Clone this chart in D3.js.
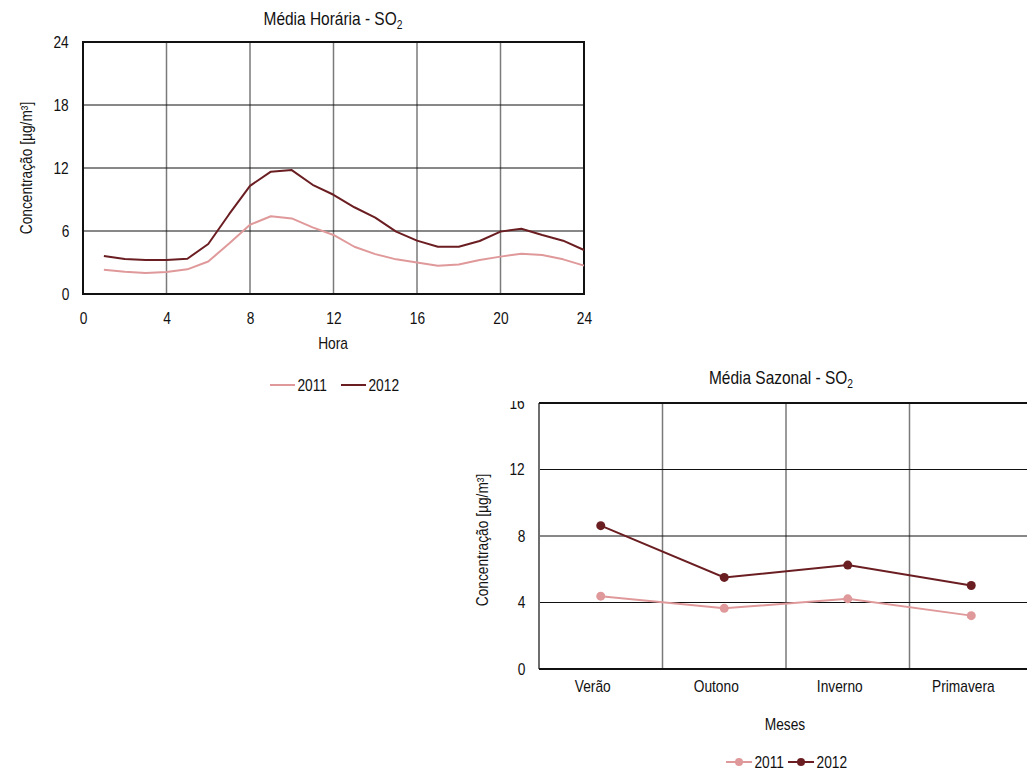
<!DOCTYPE html>
<html>
<head>
<meta charset="utf-8">
<script src="https://cdn.jsdelivr.net/npm/d3@7"></script>
<style>
  html, body { margin: 0; padding: 0; background: #fff; }
  svg { display: block; }
  text { font-family: "Liberation Sans", Arial, sans-serif; fill: #111;
         transform-box: fill-box; transform-origin: center; transform: scaleX(0.86); }
</style>
</head>
<body>
<svg id="chart" width="1027" height="771"></svg>
<script>
// ---- Data ----
const hours = [1,2,3,4,5,6,7,8,9,10,11,12,13,14,15,16,17,18,19,20,21,22,23,24];
const hourly2011 = [2.32,2.13,2.0,2.1,2.35,3.1,4.8,6.6,7.4,7.2,6.35,5.62,4.5,3.8,3.3,3.0,2.7,2.8,3.24,3.56,3.84,3.71,3.3,2.7];
const hourly2012 = [3.62,3.33,3.24,3.24,3.36,4.76,7.6,10.3,11.65,11.8,10.4,9.45,8.26,7.27,5.94,5.08,4.5,4.5,5.05,5.94,6.22,5.62,5.08,4.19];
const hourTicks = [0,4,8,12,16,20,24];
const hourYTicks = [0,6,12,18,24];

const seasons = ["Verão","Outono","Inverno","Primavera"];
const seasonal2011 = [4.38,3.65,4.22,3.21];
const seasonal2012 = [8.62,5.51,6.25,5.02];
const seasonYTicks = [0,4,8,12,16];

const years = ["2011","2012"];
const colors = {"2011":"#e0999a","2012":"#6b1e22"};

const svg = d3.select("#chart");
const font = 16;

function titleWithSub(g, x, y, main, sub) {
  const t = g.append("text").attr("x", x).attr("y", y).attr("text-anchor","middle")
    .style("font-size","18px");
  t.append("tspan").text(main);
  t.append("tspan").attr("dy", 4).style("font-size","12px").text(sub);
}
function yTitle(g, x, y, label) {
  g.append("g").attr("transform", `translate(${x},${y}) rotate(-90)`)
    .append("text").attr("text-anchor","middle").style("font-size", font+"px").text(label);
}

// ================= Chart 1: Média Horária =================
{
  const g = svg.append("g");
  const x = d3.scaleLinear().domain([0,24]).range([83,584]);
  const y = d3.scaleLinear().domain([0,24]).range([294,42]);

  g.append("g").selectAll("line").data(hourTicks.filter(d => d>0 && d<24)).join("line")
    .attr("x1", d=>x(d)).attr("x2", d=>x(d)).attr("y1", y(24)).attr("y2", y(0))
    .attr("stroke","#7a7a7a").attr("stroke-width",1.5);
  g.append("g").selectAll("line").data(hourYTicks.filter(d => d>0 && d<24)).join("line")
    .attr("x1", x(0)).attr("x2", x(24)).attr("y1", d=>y(d)).attr("y2", d=>y(d))
    .attr("stroke","#111").attr("stroke-width",1);

  g.append("rect").attr("x", x(0)).attr("y", y(24)).attr("width", x(24)-x(0)).attr("height", y(0)-y(24))
    .attr("fill","none").attr("stroke","#111").attr("stroke-width",2);

  const xa = g.append("g").attr("transform",`translate(0,${y(0)})`)
    .call(d3.axisBottom(x).tickValues(hourTicks).tickSize(0).tickPadding(19));
  xa.select(".domain").remove();
  xa.selectAll("text").style("font-size", font+"px").attr("fill","#111");
  const ya = g.append("g").attr("transform",`translate(${x(0)},0)`)
    .call(d3.axisLeft(y).tickValues(hourYTicks).tickSize(0).tickPadding(13));
  ya.select(".domain").remove();
  ya.selectAll("text").style("font-size", font+"px").attr("fill","#111");

  const line = d3.line().x((d,i)=>x(hours[i])).y(d=>y(d));
  [[hourly2011,"2011"],[hourly2012,"2012"]].forEach(([vals,yr]) => {
    g.append("path").datum(vals).attr("d", line).attr("fill","none")
      .attr("stroke", colors[yr]).attr("stroke-width",2).attr("stroke-linejoin","round");
  });

  titleWithSub(g, 333, 25, "Média Horária - SO", "2");
  g.append("text").attr("x", 333).attr("y", 349).attr("text-anchor","middle")
    .style("font-size", font+"px").text("Hora");
  yTitle(g, 32, 168, "Concentração [µg/m³]");

  const lx = [270, 341];
  years.forEach((yr,i) => {
    g.append("line").attr("x1", lx[i]).attr("x2", lx[i]+25).attr("y1",385).attr("y2",385)
      .attr("stroke", colors[yr]).attr("stroke-width",2);
    g.append("text").attr("x", lx[i]+25).attr("y", 391).style("font-size", font+"px").text(yr);
  });
}

// ================= Chart 2: Média Sazonal =================
{
  const g = svg.append("g");
  const x = d3.scaleBand().domain(seasons).range([539,1033]);
  const y = d3.scaleLinear().domain([0,16]).range([669,403]);

  svg.append("defs").append("clipPath").attr("id","clipTop")
    .attr("clipPathUnits","userSpaceOnUse")
    .append("rect").attr("x",-600).attr("y",401).attr("width",1200).attr("height",370);

  const bounds = seasons.slice(1).map(s => x(s));
  g.append("g").selectAll("line").data(bounds).join("line")
    .attr("x1", d=>d).attr("x2", d=>d).attr("y1", y(16)).attr("y2", y(0))
    .attr("stroke","#7a7a7a").attr("stroke-width",1.5);
  g.append("g").selectAll("line").data(seasonYTicks.filter(d=>d>0 && d<16)).join("line")
    .attr("x1", 539).attr("x2", 1033).attr("y1", d=>y(d)).attr("y2", d=>y(d))
    .attr("stroke","#111").attr("stroke-width",1);

  g.append("line").attr("x1",539).attr("x2",539).attr("y1",y(16)).attr("y2",y(0))
    .attr("stroke","#6e6e6e").attr("stroke-width",2);
  g.append("line").attr("x1",539).attr("x2",1033).attr("y1",y(16)).attr("y2",y(16))
    .attr("stroke","#111").attr("stroke-width",2);
  g.append("line").attr("x1",539).attr("x2",1033).attr("y1",y(0)).attr("y2",y(0))
    .attr("stroke","#111").attr("stroke-width",2);

  const xa = g.append("g").attr("transform",`translate(0,${y(0)})`)
    .call(d3.axisBottom(x).tickSize(0).tickPadding(12));
  xa.select(".domain").remove();
  xa.selectAll("text").style("font-size", font+"px").attr("fill","#111")
    .attr("dx", -8);
  const ya = g.append("g").attr("transform",`translate(539,0)`).attr("clip-path","url(#clipTop)")
    .call(d3.axisLeft(y).tickValues(seasonYTicks).tickSize(0).tickPadding(13));
  ya.select(".domain").remove();
  ya.selectAll("text").style("font-size", font+"px").attr("fill","#111");

  const cx = s => x(s) + x.bandwidth()/2;
  const line = d3.line().x((d,i)=>cx(seasons[i])).y(d=>y(d));
  [[seasonal2011,"2011"],[seasonal2012,"2012"]].forEach(([vals,yr]) => {
    g.append("path").datum(vals).attr("d", line).attr("fill","none")
      .attr("stroke", colors[yr]).attr("stroke-width",2);
    g.append("g").selectAll("circle").data(vals).join("circle")
      .attr("cx", (d,i)=>cx(seasons[i])).attr("cy", d=>y(d)).attr("r",4.5)
      .attr("fill", colors[yr]);
  });

  titleWithSub(g, 781, 384, "Média Sazonal - SO", "2");
  g.append("text").attr("x", 785).attr("y", 730).attr("text-anchor","middle")
    .style("font-size", font+"px").text("Meses");
  yTitle(g, 488, 540, "Concentração [µg/m³]");

  const lx = [726, 788];
  years.forEach((yr,i) => {
    g.append("line").attr("x1", lx[i]).attr("x2", lx[i]+26).attr("y1",762).attr("y2",762)
      .attr("stroke", colors[yr]).attr("stroke-width",2);
    g.append("circle").attr("cx", lx[i]+13).attr("cy",762).attr("r",4).attr("fill", colors[yr]);
    g.append("text").attr("x", lx[i]+26).attr("y", 768).style("font-size", font+"px").text(yr);
  });
}
</script>
</body>
</html>
